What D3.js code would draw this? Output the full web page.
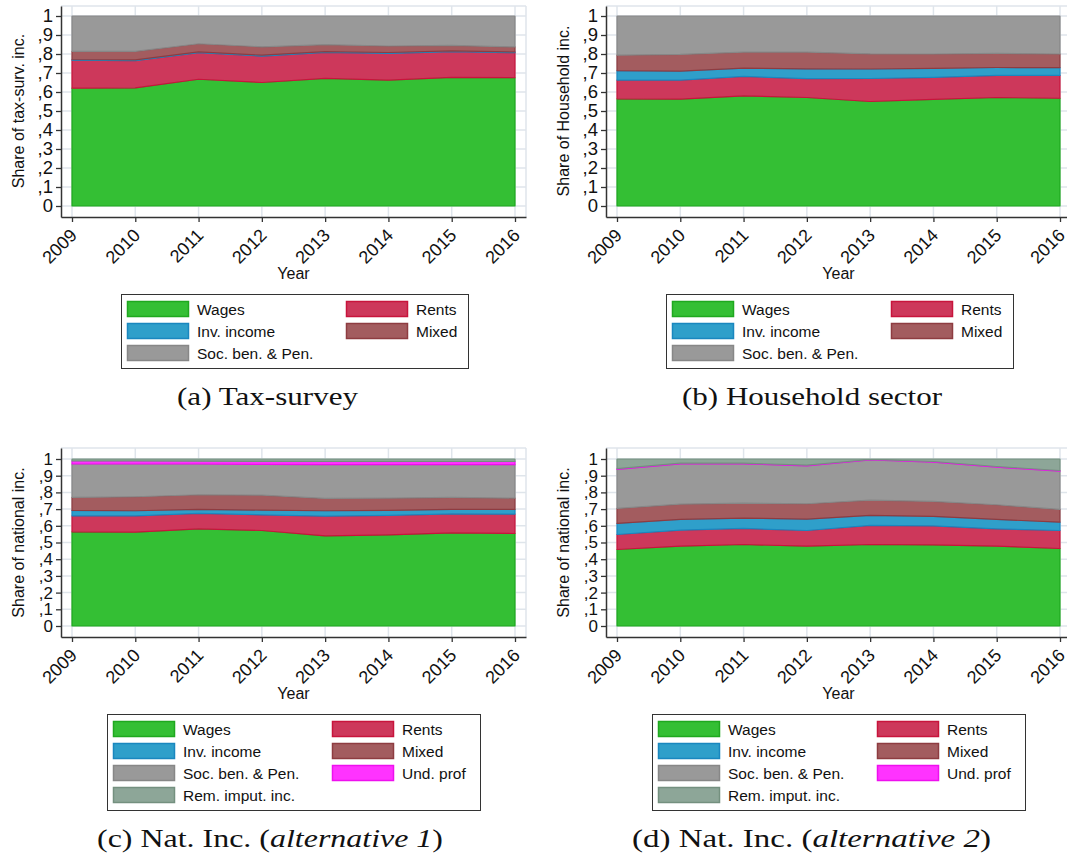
<!DOCTYPE html>
<html>
<head>
<meta charset="utf-8">
<script src="https://cdn.jsdelivr.net/npm/d3@7"></script>
<style>
  body { margin: 0; background: #fff; }
  svg { display: block; }
  .tick text { font-family: "Liberation Sans", Arial, sans-serif; fill: #111; }
  .axis-title { font-family: "Liberation Sans", Arial, sans-serif; fill: #111; }
  .legend-label { font-family: "Liberation Sans", Arial, sans-serif; fill: #111; font-size: 15.5px; }
  .caption { font-family: "Liberation Serif", "Times New Roman", serif; fill: #111; font-size: 26px; }
</style>
</head>
<body>
<div id="chart"></div>
<script>
// ---- data ----
const years = [2009, 2010, 2011, 2012, 2013, 2014, 2015, 2016];
const yTickValues = [0, 0.1, 0.2, 0.3, 0.4, 0.5, 0.6, 0.7, 0.8, 0.9, 1];
const yTickLabels = ["0", ",1", ",2", ",3", ",4", ",5", ",6", ",7", ",8", ",9", "1"];

const seriesKeys = ["wages", "rents", "inv", "mixed", "soc", "und", "rem"];
const seriesLabels = ["Wages", "Rents", "Inv. income", "Mixed", "Soc. ben. & Pen.", "Und. prof", "Rem. imput. inc."];
const fillColors = ["#34bf34", "#cd385b", "#2f9fca", "#a35c5f", "#999999", "#ff33ff", "#8da698"];
const strokeColors = ["#1fa81f", "#c8143c", "#1a87bf", "#8e3c41", "#878787", "#ee10ee", "#74907f"];

// (a) tax-survey
const taxWages = [0.620, 0.622, 0.667, 0.650, 0.672, 0.663, 0.677, 0.675];
const taxRents = [0.147, 0.143, 0.140, 0.139, 0.137, 0.140, 0.135, 0.132];
const taxInv   = [0.004, 0.004, 0.004, 0.005, 0.004, 0.005, 0.004, 0.004];
const taxMixed = [0.043, 0.045, 0.043, 0.044, 0.036, 0.034, 0.029, 0.026];
const taxSoc   = [0.186, 0.186, 0.146, 0.162, 0.151, 0.158, 0.155, 0.163];

// (b) household sector
const hhWages = [0.564, 0.563, 0.580, 0.571, 0.550, 0.561, 0.571, 0.567];
const hhRents = [0.099, 0.100, 0.102, 0.099, 0.121, 0.116, 0.116, 0.120];
const hhInv   = [0.049, 0.047, 0.044, 0.052, 0.050, 0.047, 0.042, 0.041];
const hhMixed = [0.082, 0.088, 0.084, 0.088, 0.080, 0.076, 0.074, 0.072];
const hhSoc   = [0.206, 0.202, 0.190, 0.190, 0.199, 0.200, 0.197, 0.200];

// (c) national income, alternative 1
const alt1Wages = [0.564, 0.562, 0.582, 0.572, 0.540, 0.546, 0.558, 0.554];
const alt1Rents = [0.096, 0.098, 0.092, 0.094, 0.118, 0.116, 0.114, 0.116];
const alt1Inv   = [0.032, 0.030, 0.024, 0.028, 0.032, 0.030, 0.026, 0.028];
const alt1Mixed = [0.078, 0.084, 0.088, 0.090, 0.074, 0.074, 0.072, 0.068];
const alt1Soc   = [0.200, 0.196, 0.184, 0.184, 0.202, 0.200, 0.196, 0.200];
const alt1Und   = [0.018, 0.018, 0.017, 0.018, 0.019, 0.019, 0.019, 0.019];
const alt1Rem   = [0.012, 0.012, 0.013, 0.014, 0.015, 0.015, 0.015, 0.015];

// (d) national income, alternative 2
const alt2Wages = [0.458, 0.478, 0.488, 0.478, 0.488, 0.486, 0.478, 0.464];
const alt2Rents = [0.090, 0.096, 0.096, 0.094, 0.114, 0.114, 0.104, 0.108];
const alt2Inv   = [0.066, 0.064, 0.062, 0.068, 0.060, 0.056, 0.056, 0.050];
const alt2Mixed = [0.090, 0.092, 0.090, 0.092, 0.092, 0.090, 0.088, 0.076];
const alt2Soc   = [0.234, 0.241, 0.235, 0.227, 0.240, 0.235, 0.225, 0.229];
const alt2Und   = [0.004, 0.004, 0.004, 0.004, 0.003, 0.004, 0.004, 0.004];
const alt2Rem   = [0.058, 0.025, 0.025, 0.037, 0.003, 0.015, 0.045, 0.069];

function buildRows(cols) {
    return years.map((yr, i) => {
        const row = { year: yr };
        cols.forEach((c, k) => { row[seriesKeys[k]] = c[i]; });
        return row;
    });
}

// ---- layout of the four panels ----
const panels = [
    {
        ox: 0, top: 6, y1: 16, y0: 206, axisY: 217, tickFont: 18.5,
        yTitle: "Share of tax-surv. inc.",
        rows: buildRows([taxWages, taxRents, taxInv, taxMixed, taxSoc]), n: 5,
        legend: { x: 121, y: 294, w: 347, h: 74 },
        caption: { x: 267.5, y: 405, len: 181, parts: [["(a) Tax-survey", false]] }
    },
    {
        ox: 545, top: 6, y1: 16, y0: 206, axisY: 217, tickFont: 18.5,
        yTitle: "Share of Household inc.",
        rows: buildRows([hhWages, hhRents, hhInv, hhMixed, hhSoc]), n: 5,
        legend: { x: 666, y: 294, w: 347, h: 74 },
        caption: { x: 812, y: 405, len: 260, parts: [["(b) Household sector", false]] }
    },
    {
        ox: 0, top: 448, y1: 459, y0: 626, axisY: 637, tickFont: 17,
        yTitle: "Share of national inc.",
        rows: buildRows([alt1Wages, alt1Rents, alt1Inv, alt1Mixed, alt1Soc, alt1Und, alt1Rem]), n: 7,
        legend: { x: 107, y: 714, w: 373, h: 96 },
        caption: { x: 270, y: 847, len: 346, parts: [["(c) Nat. Inc. (", false], ["alternative 1", true], [")", false]] }
    },
    {
        ox: 545, top: 448, y1: 459, y0: 626, axisY: 637, tickFont: 17,
        yTitle: "Share of national inc.",
        rows: buildRows([alt2Wages, alt2Rents, alt2Inv, alt2Mixed, alt2Soc, alt2Und, alt2Rem]), n: 7,
        legend: { x: 652, y: 714, w: 373, h: 96 },
        caption: { x: 811.5, y: 847, len: 359, parts: [["(d) Nat. Inc. (", false], ["alternative 2", true], [")", false]] }
    }
];

const svg = d3.select("#chart").append("svg")
    .attr("width", 1067)
    .attr("height", 856);

svg.append("rect").attr("width", 1067).attr("height", 856).attr("fill", "#fff");

function drawPanel(p) {
    const g = svg.append("g");

    // plot region: axis at left, 11px pad before first/after last year
    const axisX = 61 + p.ox;
    const xFirst = 72 + p.ox, xLast = 515 + p.ox;
    const yearPx = (xLast - xFirst) / 7;
    const padYears = (xFirst - axisX) / yearPx;
    const x = d3.scaleLinear()
        .domain([2009 - padYears, 2016 + padYears])
        .range([axisX, xLast + (xFirst - axisX)]);

    const unit = p.y0 - p.y1;
    const y = d3.scaleLinear()
        .domain([-(p.axisY - p.y0) / unit, 1 + (p.y1 - p.top) / unit])
        .range([p.axisY, p.top]);

    const [xl, xr] = x.range();

    // grid
    const grid = g.append("g").attr("stroke", "#dfe5eb").attr("stroke-width", 1.5);
    grid.selectAll(".hg").data(yTickValues).join("line")
        .attr("x1", xl).attr("x2", xr)
        .attr("y1", d => y(d)).attr("y2", d => y(d));
    grid.selectAll(".vg").data(years).join("line")
        .attr("x1", d => x(d)).attr("x2", d => x(d))
        .attr("y1", p.top).attr("y2", p.axisY);
    grid.append("line").attr("x1", xl).attr("x2", xr).attr("y1", p.top).attr("y2", p.top);
    grid.append("line").attr("x1", xr).attr("x2", xr).attr("y1", p.top).attr("y2", p.axisY);

    // stacked areas
    const keys = seriesKeys.slice(0, p.n);
    const layers = d3.stack().keys(keys)(p.rows);
    const area = d3.area()
        .x(d => x(d.data.year))
        .y0(d => y(d[0]))
        .y1(d => y(d[1]));

    g.append("g").selectAll("path")
        .data(layers)
        .join("path")
        .attr("d", area)
        .attr("fill", (d, i) => fillColors[i])
        .attr("stroke", (d, i) => strokeColors[i])
        .attr("stroke-width", 1.2)
        .attr("stroke-linejoin", "round");

    // y axis
    const yAxis = g.append("g")
        .attr("transform", `translate(${axisX},0)`)
        .call(d3.axisLeft(y)
            .tickValues(yTickValues)
            .tickFormat((d, i) => yTickLabels[i])
            .tickSize(5)
            .tickPadding(3)
            .tickSizeOuter(0));
    yAxis.selectAll(".domain").attr("stroke", "#333").attr("stroke-width", 1.5);
    yAxis.selectAll(".tick line").attr("stroke", "#333").attr("stroke-width", 1.3);
    yAxis.selectAll(".tick text").style("font-size", p.tickFont + "px");

    // x axis
    const xAxis = g.append("g")
        .attr("transform", `translate(0,${p.axisY})`)
        .call(d3.axisBottom(x)
            .tickValues(years)
            .tickFormat(d3.format("d"))
            .tickSize(5)
            .tickSizeOuter(0));
    xAxis.selectAll(".domain").attr("stroke", "#333").attr("stroke-width", 1.5);
    xAxis.selectAll(".tick line").attr("stroke", "#333").attr("stroke-width", 1.3);
    xAxis.selectAll(".tick text")
        .style("font-size", "18px")
        .style("text-anchor", "end")
        .attr("x", 0).attr("y", 0).attr("dy", "0.35em")
        .attr("transform", "translate(1,15) rotate(-45)");

    // axis titles
    g.append("text")
        .attr("class", "axis-title")
        .attr("transform", `translate(${24 + p.ox},${(p.y0 + p.y1) / 2}) rotate(-90)`)
        .attr("text-anchor", "middle")
        .style("font-size", "16px")
        .text(p.yTitle);

    g.append("text")
        .attr("class", "axis-title")
        .attr("x", (xl + xr) / 2)
        .attr("y", p.axisY + 62)
        .attr("text-anchor", "middle")
        .style("font-size", "16px")
        .text("Year");

    // legend
    const lg = g.append("g").attr("transform", `translate(${p.legend.x},${p.legend.y})`);
    lg.append("rect")
        .attr("x", 0.5).attr("y", 0.5)
        .attr("width", p.legend.w).attr("height", p.legend.h)
        .attr("fill", "#fff").attr("stroke", "#333").attr("stroke-width", 1);

    const items = lg.selectAll(".item")
        .data(keys)
        .join("g")
        .attr("class", "item")
        .attr("transform", (d, i) => `translate(${i % 2 === 0 ? 6 : 225},${15 + Math.floor(i / 2) * 22})`);

    items.append("rect")
        .attr("x", 0.5).attr("y", -7.5)
        .attr("width", 61).attr("height", 15)
        .attr("fill", (d, i) => fillColors[i])
        .attr("stroke", (d, i) => strokeColors[i])
        .attr("stroke-width", 1.5);

    items.append("text")
        .attr("class", "legend-label")
        .attr("x", 70)
        .attr("dy", "0.36em")
        .text((d, i) => seriesLabels[i]);

    // caption
    const cap = g.append("text")
        .attr("class", "caption")
        .attr("x", p.caption.x)
        .attr("y", p.caption.y)
        .attr("text-anchor", "middle")
        .attr("textLength", p.caption.len)
        .attr("lengthAdjust", "spacingAndGlyphs");
    p.caption.parts.forEach(([txt, it]) => {
        cap.append("tspan")
            .style("font-style", it ? "italic" : "normal")
            .text(txt);
    });
}

panels.forEach(drawPanel);
</script>
</body>
</html>
